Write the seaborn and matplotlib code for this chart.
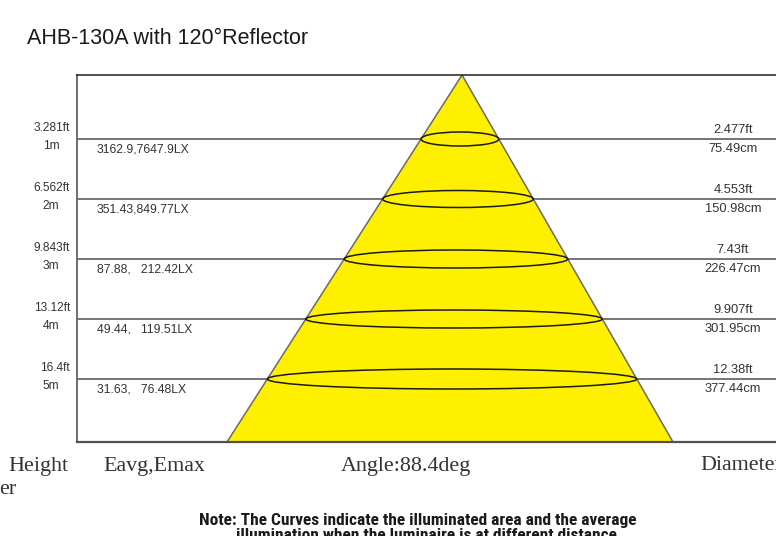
import matplotlib
matplotlib.use("Agg")
import matplotlib.pyplot as plt
import seaborn as sns
import numpy as np
import pandas as pd
from matplotlib.patches import Polygon, Ellipse

# ---- data ----
heights_m = [1, 2, 3, 4, 5]
height_m_labels = ["1m", "2m", "3m", "4m", "5m"]
height_ft_labels = ["3.281ft", "6.562ft", "9.843ft", "13.12ft", "16.4ft"]
eavg = ["3162.9", "351.43", "87.88", "49.44", "31.63"]
emax = ["7647.9", "849.77", "212.42", "119.51", "76.48"]
lux_sep = [",", ",", ",   ", ",   ", ",   "]
diam_ft_labels = ["2.477ft", "4.553ft", "7.43ft", "9.907ft", "12.38ft"]
diam_cm_labels = ["75.49cm", "150.98cm", "226.47cm", "301.95cm", "377.44cm"]
beam_angle = "88.4deg"
title = "AHB-130A with 120°Reflector"

df = pd.DataFrame({"h": heights_m, "m": height_m_labels, "ft": height_ft_labels,
                   "eavg": eavg, "emax": emax, "sep": lux_sep,
                   "dft": diam_ft_labels, "dcm": diam_cm_labels})

sns.set_theme(style="white")
plt.rcParams["font.family"] = ["Liberation Sans", "DejaVu Sans"]

W, H = 776, 536
fig = plt.figure(figsize=(W / 100, H / 100), dpi=100)
# axes: x in pixel-like units, y in metres
ax = fig.add_axes([77 / W, 1 - 442 / H, (800 - 77) / W, (442 - 75) / H])
y_top, y_bot = (75 - 79) / 60, (442 - 79) / 60

# level lines
sns.lineplot(data=pd.DataFrame({"x": [77, 800] * 5,
                                "y": np.repeat(heights_m, 2),
                                "g": np.repeat(heights_m, 2)}),
             x="x", y="y", units="g", estimator=None, color="#505050",
             lw=1.1, ax=ax, zorder=1, legend=False)
ax.set_xlabel("")
ax.set_ylabel("")
ax.set_xlim(77, 800)
ax.set_ylim(y_bot, y_top)
ax.set_xticks([])
ax.set_yticks([])
ax.spines["right"].set_visible(False)
ax.spines["left"].set_color("#6e6e6e")
ax.spines["left"].set_linewidth(1.4)
ax.spines["bottom"].set_color("#505050")
ax.spines["bottom"].set_linewidth(1.6)
ax.spines["top"].set_color("#202020")
ax.spines["top"].set_linewidth(1.1)

# beam cone
apex_x, base_l, base_r = 462, 227, 673
tri = Polygon([[apex_x, y_top], [base_l, y_bot], [base_r, y_bot]], closed=True,
              facecolor="#fff000", edgecolor="#6a6a6a", lw=1.1, zorder=2)
ax.add_patch(tri)

ell_h_px = [14, 17, 18, 18, 20]
frac = lambda h: (h - y_top) / (y_bot - y_top)
tc = "#333333"
for i, r in df.iterrows():
    h = r["h"]
    xl = apex_x + (base_l - apex_x) * frac(h)
    xr = apex_x + (base_r - apex_x) * frac(h)
    ax.add_patch(Ellipse(((xl + xr) / 2, h), xr - xl, ell_h_px[i] / 60,
                         facecolor="none", edgecolor="#1a1a1a", lw=1.1, zorder=3))
    ax.text(70, h - 0.18, r["ft"], ha="right", va="center", fontsize=8.6, color=tc, clip_on=False)
    ax.text(51, h + 0.11, r["m"], ha="center", va="center", fontsize=8.6, color=tc, clip_on=False)
    ax.text(97, h + 0.17, f'{r["eavg"]}{r["sep"]}{r["emax"]}LX', ha="left", va="center",
            fontsize=8.8, color=tc)
    ax.text(733, h - 0.15, r["dft"], ha="center", va="center", fontsize=9.3, color=tc)
    ax.text(733, h + 0.17, r["dcm"], ha="center", va="center", fontsize=9.3, color=tc)

def ftxt(x, y, s, **kw):
    fig.text(x / W, 1 - y / H, s, **kw)

ftxt(27, 39, title, fontsize=15.5, color="#1a1a1a", ha="left", va="center")

serif = ["Liberation Serif", "DejaVu Serif"]
fs = 15.8
ftxt(8, 466, "Height", fontsize=fs, family=serif, color="#333333", va="center")
ftxt(103, 466, "Eavg,Emax", fontsize=fs, family=serif, color="#333333", va="center")
ftxt(341, 466, "Angle:" + beam_angle, fontsize=fs, family=serif, color="#333333", va="center")
ftxt(700, 466, "Diameter", fontsize=fs, family=serif, color="#333333", va="center")
ftxt(-1, 489, "er", fontsize=fs, family=serif, color="#333333", va="center")

narrow = ["Liberation Sans Narrow", "Roboto Condensed", "Liberation Sans", "DejaVu Sans"]
ftxt(418, 520, "Note: The Curves indicate the illuminated area and the average",
     fontsize=12.5, family=narrow, weight="bold", color="#1a1a1a", ha="center", va="center")
ftxt(429, 536, "illumination when the luminaire is at different distance.",
     fontsize=12.5, family=narrow, weight="bold", color="#1a1a1a", ha="center", va="center")

fig.savefig("out.png", dpi=100)
